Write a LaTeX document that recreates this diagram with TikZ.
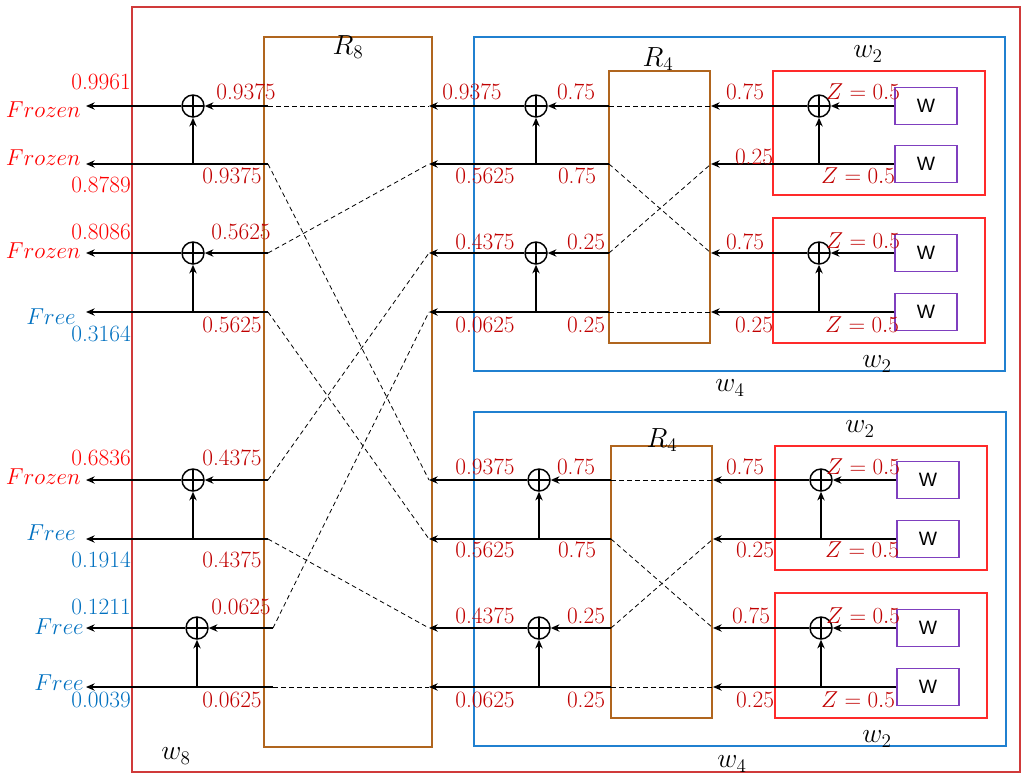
\documentclass[tikz,border=0pt]{standalone}
\usepackage{fontspec}
\newfontfamily\wfont{Liberation Sans}
\usetikzlibrary{arrows.meta,calc}
\definecolor{wred}{HTML}{D03A3A}
\definecolor{rbrown}{HTML}{B0651E}
\definecolor{wblue}{HTML}{2080D0}
\definecolor{wtwored}{HTML}{FF2A2A}
\definecolor{wpurple}{HTML}{7F3FBF}
\definecolor{lred}{HTML}{C00000}
\definecolor{bred}{HTML}{FF0000}
\definecolor{lblue}{HTML}{0070C0}
\begin{document}
\begin{tikzpicture}[x=0.75pt,y=-0.75pt,
  every node/.style={font=\fontsize{17.5}{19}\selectfont, inner sep=0pt},
  arr/.style={-{Stealth[length=6.5pt,width=5.5pt]}, line width=1pt},
  dsh/.style={dash pattern=on 3.5pt off 2.5pt, line width=0.6pt},
  xor/.style={circle, draw, line width=1.1pt, minimum size=16.5pt, inner sep=0pt,
    path picture={\draw[line width=1.1pt] (path picture bounding box.north) -- (path picture bounding box.south)
      (path picture bounding box.west) -- (path picture bounding box.east);}},
  wbox/.style={draw=wpurple, line width=0.9pt, minimum width=46.5pt, minimum height=27.75pt,
    font=\wfont\fontsize{14.5}{16}\selectfont},
  num/.style={text=lred},
  outr/.style={anchor=east, text=bred},
  outb/.style={anchor=east, text=lblue},
  hdr/.style={text=black, font=\fontsize{20}{22}\selectfont}
]
\useasboundingbox (0,0) rectangle (1024,775);

% ---------- boxes ----------
\draw[wred, line width=1pt] (132,7) rectangle (1020,772);
\draw[rbrown, line width=1pt] (264,37) rectangle (432,747);
\draw[wblue, line width=1pt] (474,37) rectangle (1005,371);
\draw[wblue, line width=1pt] (474,412) rectangle (1006,746);
\draw[rbrown, line width=1pt] (609,71) rectangle (710,343);
\draw[rbrown, line width=1pt] (611,446) rectangle (712,718);
\draw[wtwored, line width=1pt] (773,71) rectangle (985,195);
\draw[wtwored, line width=1pt] (773,218) rectangle (985,343);
\draw[wtwored, line width=1pt] (775,446) rectangle (987,570);
\draw[wtwored, line width=1pt] (775,593) rectangle (987,718);

% ---------- coordinates ----------
\foreach \n/\y/\xs in {1/106/268, 2/164/268, 3/253/268, 4/312/268, 5/480/268, 6/539/268, 7/628/273, 8/687/273} {
  \coordinate (sL\n) at (\xs,\y);
  \coordinate (oL\n) at (86,\y);
  \coordinate (mR\n) at (429,\y);
}
\foreach \n/\y in {1/106, 2/164, 3/253, 4/312} {
  \coordinate (sT\n) at (609,\y);
  \coordinate (tT\n) at (711,\y);
  \node[wbox] (wb\n) at (926,\y) {W};
}
\foreach \n/\y in {5/480, 6/539, 7/628, 8/687} {
  \coordinate (sT\n) at (611,\y);
  \coordinate (tT\n) at (713,\y);
  \node[wbox] (wb\n) at (928,\y) {W};
}

% ---------- XOR nodes ----------
\node[xor] (cL1) at (193,106) {};
\node[xor] (cL3) at (193,253) {};
\node[xor] (cL5) at (193,480) {};
\node[xor] (cL7) at (197,628) {};
\node[xor] (cM1) at (536,106) {};
\node[xor] (cM3) at (536,253) {};
\node[xor] (cM5) at (539,480) {};
\node[xor] (cM7) at (539,628) {};
\node[xor] (cR1) at (819,106) {};
\node[xor] (cR3) at (819,253) {};
\node[xor] (cR5) at (821,480) {};
\node[xor] (cR7) at (821,628) {};

% ---------- connectors ----------
\foreach \a/\b in {1/2,3/4,5/6,7/8} {
  % stage 3 (left)
  \draw[arr] (sL\a) -- (cL\a);
  \draw[arr] (cL\a) -- (oL\a);
  \draw[arr] (sL\b) -- (oL\b);
  \draw[arr] (cL\a |- sL\b) -- (cL\a);
  % stage 2 (middle)
  \draw[arr] (sT\a) -- (cM\a);
  \draw[arr] (cM\a) -- (mR\a);
  \draw[arr] (sT\b) -- (mR\b);
  \draw[arr] (cM\a |- sT\b) -- (cM\a);
  % stage 1 (right)
  \draw[arr] (wb\a.west) -- (cR\a);
  \draw[arr] (cR\a) -- (tT\a);
  \draw[arr] (wb\b.west) -- (tT\b);
  \draw[arr] (cR\a |- wb\b.west) -- (cR\a);
}
% R8 permutation
\foreach \l/\r in {1/1,2/5,3/2,4/6,5/3,6/7,7/4,8/8}
  \draw[dsh] (sL\l) -- (mR\r);
% R4 permutations
\foreach \l/\r in {1/1,2/3,3/2,4/4,5/5,6/7,7/6,8/8}
  \draw[dsh] (sT\l) -- (tT\r);

% ---------- left outputs ----------
\node[outr] (v1) at (131,82) {0.9961};
\node[outr] (n1) at (81,110) {$Frozen$};
\node[outr] (n2) at (81,158) {$Frozen$};
\node[outr] (v2) at (131,185) {0.8789};
\node[outr] (v3) at (131,232) {0.8086};
\node[outr] (n3) at (81,251) {$Frozen$};
\node[outb] (n4) at (76,317) {$Free$};
\node[outb] (v4) at (131,334) {0.3164};
\node[outr] (v5) at (131,458) {0.6836};
\node[outr] (n5) at (81,477) {$Frozen$};
\node[outb] (n6) at (76,533) {$Free$};
\node[outb] (v6) at (131,560) {0.1914};
\node[outb] (v7) at (131,607) {0.1211};
\node[outb] (n7) at (84,627) {$Free$};
\node[outb] (n8) at (84,683) {$Free$};
\node[outb] (v8) at (131,700) {0.0039};

% ---------- R8 left labels ----------
\node[num] (p1) at (246,92) {0.9375};
\node[num] (p2) at (232,176) {0.9375};
\node[num] (p3) at (241,232) {0.5625};
\node[num] (p4) at (232,325) {0.5625};
\node[num] (p5) at (232,458) {0.4375};
\node[num] (p6) at (232,560) {0.4375};
\node[num] (p7) at (241,607) {0.0625};
\node[num] (p8) at (232,700) {0.0625};

% ---------- stage 2 labels ----------
\node[num] (q1) at (472,92) {0.9375};
\node[num] (q1b) at (576,92) {0.75};
\node[num] (q2) at (485,176) {0.5625};
\node[num] (q2b) at (577,176) {0.75};
\node[num] (q3) at (485,242) {0.4375};
\node[num] (q3b) at (586,242) {0.25};
\node[num] (q4) at (485,325) {0.0625};
\node[num] (q4b) at (586,325) {0.25};
\node[num] (q5) at (485,467) {0.9375};
\node[num] (q5b) at (576,467) {0.75};
\node[num] (q6) at (485,550) {0.5625};
\node[num] (q6b) at (577,550) {0.75};
\node[num] (q7) at (485,616) {0.4375};
\node[num] (q7b) at (586,616) {0.25};
\node[num] (q8) at (485,700) {0.0625};
\node[num] (q8b) at (586,700) {0.25};

% ---------- stage 1 labels ----------
\node[num] (r1) at (745,92) {0.75};
\node[num] (r2) at (754,157) {0.25};
\node[num] (r3) at (745,242) {0.75};
\node[num] (r4) at (754,325) {0.25};
\node[num] (r5) at (745,467) {0.75};
\node[num] (r6) at (755,550) {0.25};
\node[num] (r7) at (751,616) {0.75};
\node[num] (r8) at (755,700) {0.25};
\node[num] (z1) at (863,92) {$Z=0.5$};
\node[num] (z2) at (858,176) {$Z=0.5$};
\node[num] (z3) at (863,241) {$Z=0.5$};
\node[num] (z4) at (862,325) {$Z=0.5$};
\node[num] (z5) at (863,467) {$Z=0.5$};
\node[num] (z6) at (862,550) {$Z=0.5$};
\node[num] (z7) at (863,616) {$Z=0.5$};
\node[num] (z8) at (858,700) {$Z=0.5$};

% ---------- headers ----------
\node[hdr] (hR8) at (348,47) {$R_8$};
\node[hdr] (hR4a) at (658,59) {$R_4$};
\node[hdr] (hR4b) at (662,440) {$R_4$};
\node[hdr] (hw2a) at (868,54) {$w_2$};
\node[hdr] (hw2b) at (877,364) {$w_2$};
\node[hdr] (hw2c) at (860,429) {$w_2$};
\node[hdr] (hw2d) at (877,739) {$w_2$};
\node[hdr] (hw4a) at (730,388) {$w_4$};
\node[hdr] (hw4b) at (732,764) {$w_4$};
\node[hdr] (hw8) at (176,756) {$w_8$};
\end{tikzpicture}
\end{document}
